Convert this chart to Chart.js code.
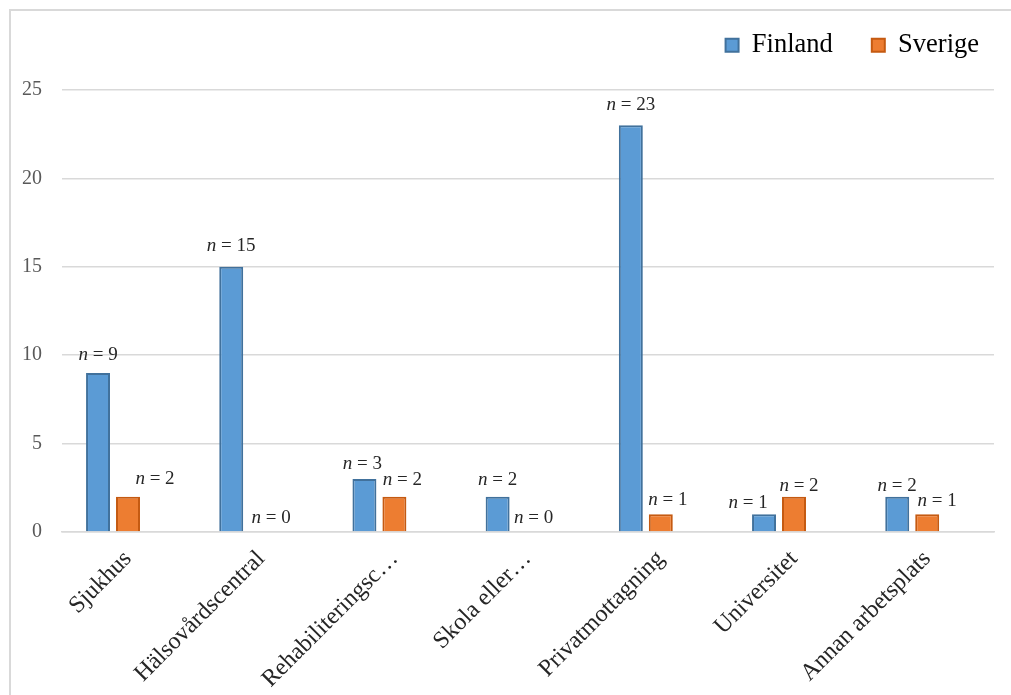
<!DOCTYPE html>
<html>
<head>
<meta charset="utf-8">
<script src="https://cdn.jsdelivr.net/npm/chart.js@4/dist/chart.umd.min.js"></script>
<style>
  html, body { margin: 0; padding: 0; background: #fff; overflow: hidden; }
  #frame {
    position: absolute; left: 9px; top: 9px;
    width: 1100px; height: 800px;
    border: 2px solid #d9d9d9;
  }
  #c { position: absolute; left: 0; top: 0; }
</style>
</head>
<body>
<div id="frame"></div>
<canvas id="c" width="1011" height="695"></canvas>
<script>
// ── data ────────────────────────────────────────────
const categories = [
    'Sjukhus', 'Hälsovårdscentral', 'Rehabiliteringsc…', 'Skola eller…',
    'Privatmottagning', 'Universitet', 'Annan arbetsplats'
];
const finland = [9, 15, 3, 2, 23, 1, 2];
const sverige = [2, 0, 2, 0, 1, 2, 1];
const yTicks  = [0, 5, 10, 15, 20, 25];

// label nudges (px) so the "n = x" texts sit like in the original
const finlandLabelDx = [0, 0, -2, 0, 0, -16, 0];
const sverigeLabelDx = [27, 10, 8, 6, 7, 5, 10];
const finlandLabelDy = [-18, -21, -15, -17, -20, -11, -11];
const sverigeLabelDy = [-18, -14, -17, -14, -14, -11, -13];

const SERIF = '"Liberation Serif", "Times New Roman", serif';

// ── "n = x" labels, italic n ─────────────────────────
const nLabels = {
    id: 'nLabels',
    afterDatasetsDraw(chart) {
        const ctx = chart.ctx;
        const shifts = [[finlandLabelDx, finlandLabelDy], [sverigeLabelDx, sverigeLabelDy]];
        ctx.save();
        ctx.fillStyle = '#262626';
        ctx.textBaseline = 'middle';
        chart.data.datasets.forEach((ds, di) => {
            const meta = chart.getDatasetMeta(di);
            meta.data.forEach((bar, i) => {
                const v = ds.data[i].y;
                const rest = ' = ' + v;
                ctx.font = 'italic 19px ' + SERIF;
                const wN = ctx.measureText('n').width;
                ctx.font = '19px ' + SERIF;
                const wR = ctx.measureText(rest).width;
                const cx = bar.x + shifts[di][0][i];
                const cy = bar.y + shifts[di][1][i];
                let x = cx - (wN + wR) / 2;
                ctx.textAlign = 'left';
                ctx.font = 'italic 19px ' + SERIF;
                ctx.fillText('n', x, cy);
                ctx.font = '19px ' + SERIF;
                ctx.fillText(rest, x + wN, cy);
            });
        });
        ctx.restore();
    }
};

// fixed legend band height, legend nudged to the right / up
const legendBand = {
    id: 'legendBand',
    beforeInit(chart) {
        const fit = chart.legend.fit;
        chart.legend.fit = function () {
            fit.call(this);
            this.height = 90;
        };
    },
    afterLayout(chart) {
        const lg = chart.legend;
        lg.left += 24; lg.right += 24;
        lg.top -= 7; lg.bottom -= 7;
    }
};

const toPoints = arr => arr.map((v, i) => ({ x: i, y: v }));

new Chart(document.getElementById('c'), {
    type: 'bar',
    data: {
        datasets: [
            {
                label          : 'Finland',
                data           : toPoints(finland),
                backgroundColor: '#5b9bd5',
                borderColor    : '#41719c',
                borderWidth    : 2,
                borderSkipped  : 'bottom'
            },
            {
                label          : 'Sverige',
                data           : toPoints(sverige),
                backgroundColor: '#ed7d31',
                borderColor    : '#c55a11',
                borderWidth    : 2,
                borderSkipped  : 'bottom'
            }
        ]
    },
    options: {
        responsive : false,
        animation  : false,
        devicePixelRatio: 1,
        categoryPercentage: 0.45,
        barPercentage     : 0.8,
        layout: { padding: { left: 0, right: 17, top: 0, bottom: 0 } },
        plugins: {
            legend: {
                position: 'top',
                align   : 'end',
                labels  : {
                    boxWidth : 13,
                    boxHeight: 13,
                    padding  : 39,
                    color    : '#000',
                    font     : { family: SERIF, size: 26.5 }
                }
            },
            tooltip: { enabled: false }
        },
        scales: {
            x: {
                type  : 'linear',
                offset: false,
                min   : -0.383,
                max   : 6.614,
                afterBuildTicks: axis => { axis.ticks = categories.map((c, i) => ({ value: i })); },
                afterFit: axis => { axis.height = 163; },
                grid  : { display: false },
                border: { color: '#d9d9d9', width: 1.5 },
                ticks : {
                    autoSkip   : false,
                    minRotation: 45,
                    maxRotation: 45,
                    padding    : 5,
                    labelOffset: 15,
                    color      : '#262626',
                    font       : { family: SERIF, size: 24 },
                    callback   : v => categories[v]
                }
            },
            y: {
                min: 0,
                max: 25,
                afterBuildTicks: axis => { axis.ticks = yTicks.map(v => ({ value: v })); },
                afterFit: axis => { axis.width = 62; },
                border: { display: false },
                grid  : { color: '#d9d9d9', lineWidth: 1.5, drawTicks: false },
                ticks : {
                    padding: 20,
                    color  : '#595959',
                    font   : { family: SERIF, size: 20 }
                }
            }
        }
    },
    plugins: [legendBand, nLabels]
});
</script>
</body>
</html>
